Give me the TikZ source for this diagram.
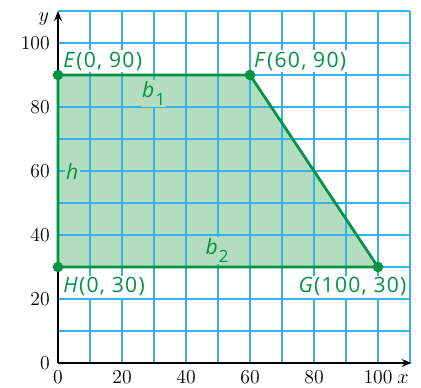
\documentclass[tikz,border=0pt]{standalone}
\usepackage{fontspec}
\setsansfont[LetterSpace=6]{Open Sans}
\usetikzlibrary{arrows.meta}
\definecolor{trapgreen}{RGB}{0,148,68}
\definecolor{trapfill}{RGB}{180,221,192}
\definecolor{gridblue}{RGB}{56,178,230}
\newcommand{\lowidx}[1]{\raisebox{-0.38em}{\fontsize{12}{13}\selectfont #1}}

\begin{document}
\begin{tikzpicture}[x=0.08cm, y=0.08cm,
        vertexdot/.style={circle, fill=trapgreen, inner sep=0pt, minimum size=7.5pt},
        edge/.style={draw=trapgreen, line width=1.9pt},
        gridline/.style={draw=gridblue, line width=0.75pt},
        axisline/.style={draw=black, line width=1.1pt, -{Stealth[length=7pt, width=5.5pt]}},
        ptlabel/.style={text=trapgreen, fill=white, inner xsep=0.5pt, inner ysep=1pt, font=\sffamily\fontsize{15}{17}\selectfont},
        ticklabel/.style={inner sep=0pt, font=\fontsize{14}{16}\selectfont}]
        \useasboundingbox (-18.125,-7.5) rectangle (113.4375,113.4375);

        \coordinate (O) at (0,0);
        \coordinate (xend) at (110.5,0);
        \coordinate (yend) at (0,110);
        \coordinate (e) at (0,90);
        \coordinate (f) at (60,90);
        \coordinate (g) at (100,30);
        \coordinate (h) at (0,30);

        \fill[trapfill] (e) -- (f) -- (g) -- (h) -- cycle;
        \foreach \k in {1,...,11} {
            \draw[gridline] (\k*10,0) -- (\k*10,110);
            \draw[gridline] (0,\k*10) -- (110,\k*10);
        }

        \node[ptlabel, anchor=base west] (Elab) at (1.4,92.5) {\textit{E}(0, 90)};
        \node[ptlabel, anchor=base west] (Flab) at (61,92.5) {\textit{F}(60, 90)};
        \node[ptlabel, anchor=base east] (Glab) at (109.2,21.9) {\textit{G}(100, 30)};
        \node[ptlabel, anchor=base west] (Hlab) at (1.4,21.9) {\textit{H}(0, 30)};
        \node[ptlabel, fill=trapfill, anchor=base west] (b1) at (26,83.1) {\textit{b}\lowidx{1}};
        \node[ptlabel, fill=trapfill, anchor=base west] (b2) at (45.8,33.8) {\textit{b}\lowidx{2}};
        \node[ptlabel, fill=trapfill, anchor=base west] (hlab) at (2.2,57.2) {\textit{h}};

        \draw[axisline] (O) -- (xend);
        \draw[axisline] (O) -- (yend);

        \draw[edge] (e) -- (f) -- (g) -- (h) -- cycle;
        \node[vertexdot] (E) at (e) {};
        \node[vertexdot] (F) at (f) {};
        \node[vertexdot] (G) at (g) {};
        \node[vertexdot] (H) at (h) {};

        \foreach \v in {0,20,...,100} {
            \node[ticklabel, anchor=east] (ytick\v) at (-2.5,\v) {\v};
            \node[ticklabel, anchor=base] (xtick\v) at (\v,-6.25) {\v};
        }
        \node[ticklabel, anchor=base] (xname) at (107.8,-6.25) {$x$};
        \node[ticklabel] (yname) at (-4.4,107.5) {$y$};
\end{tikzpicture}
\end{document}
